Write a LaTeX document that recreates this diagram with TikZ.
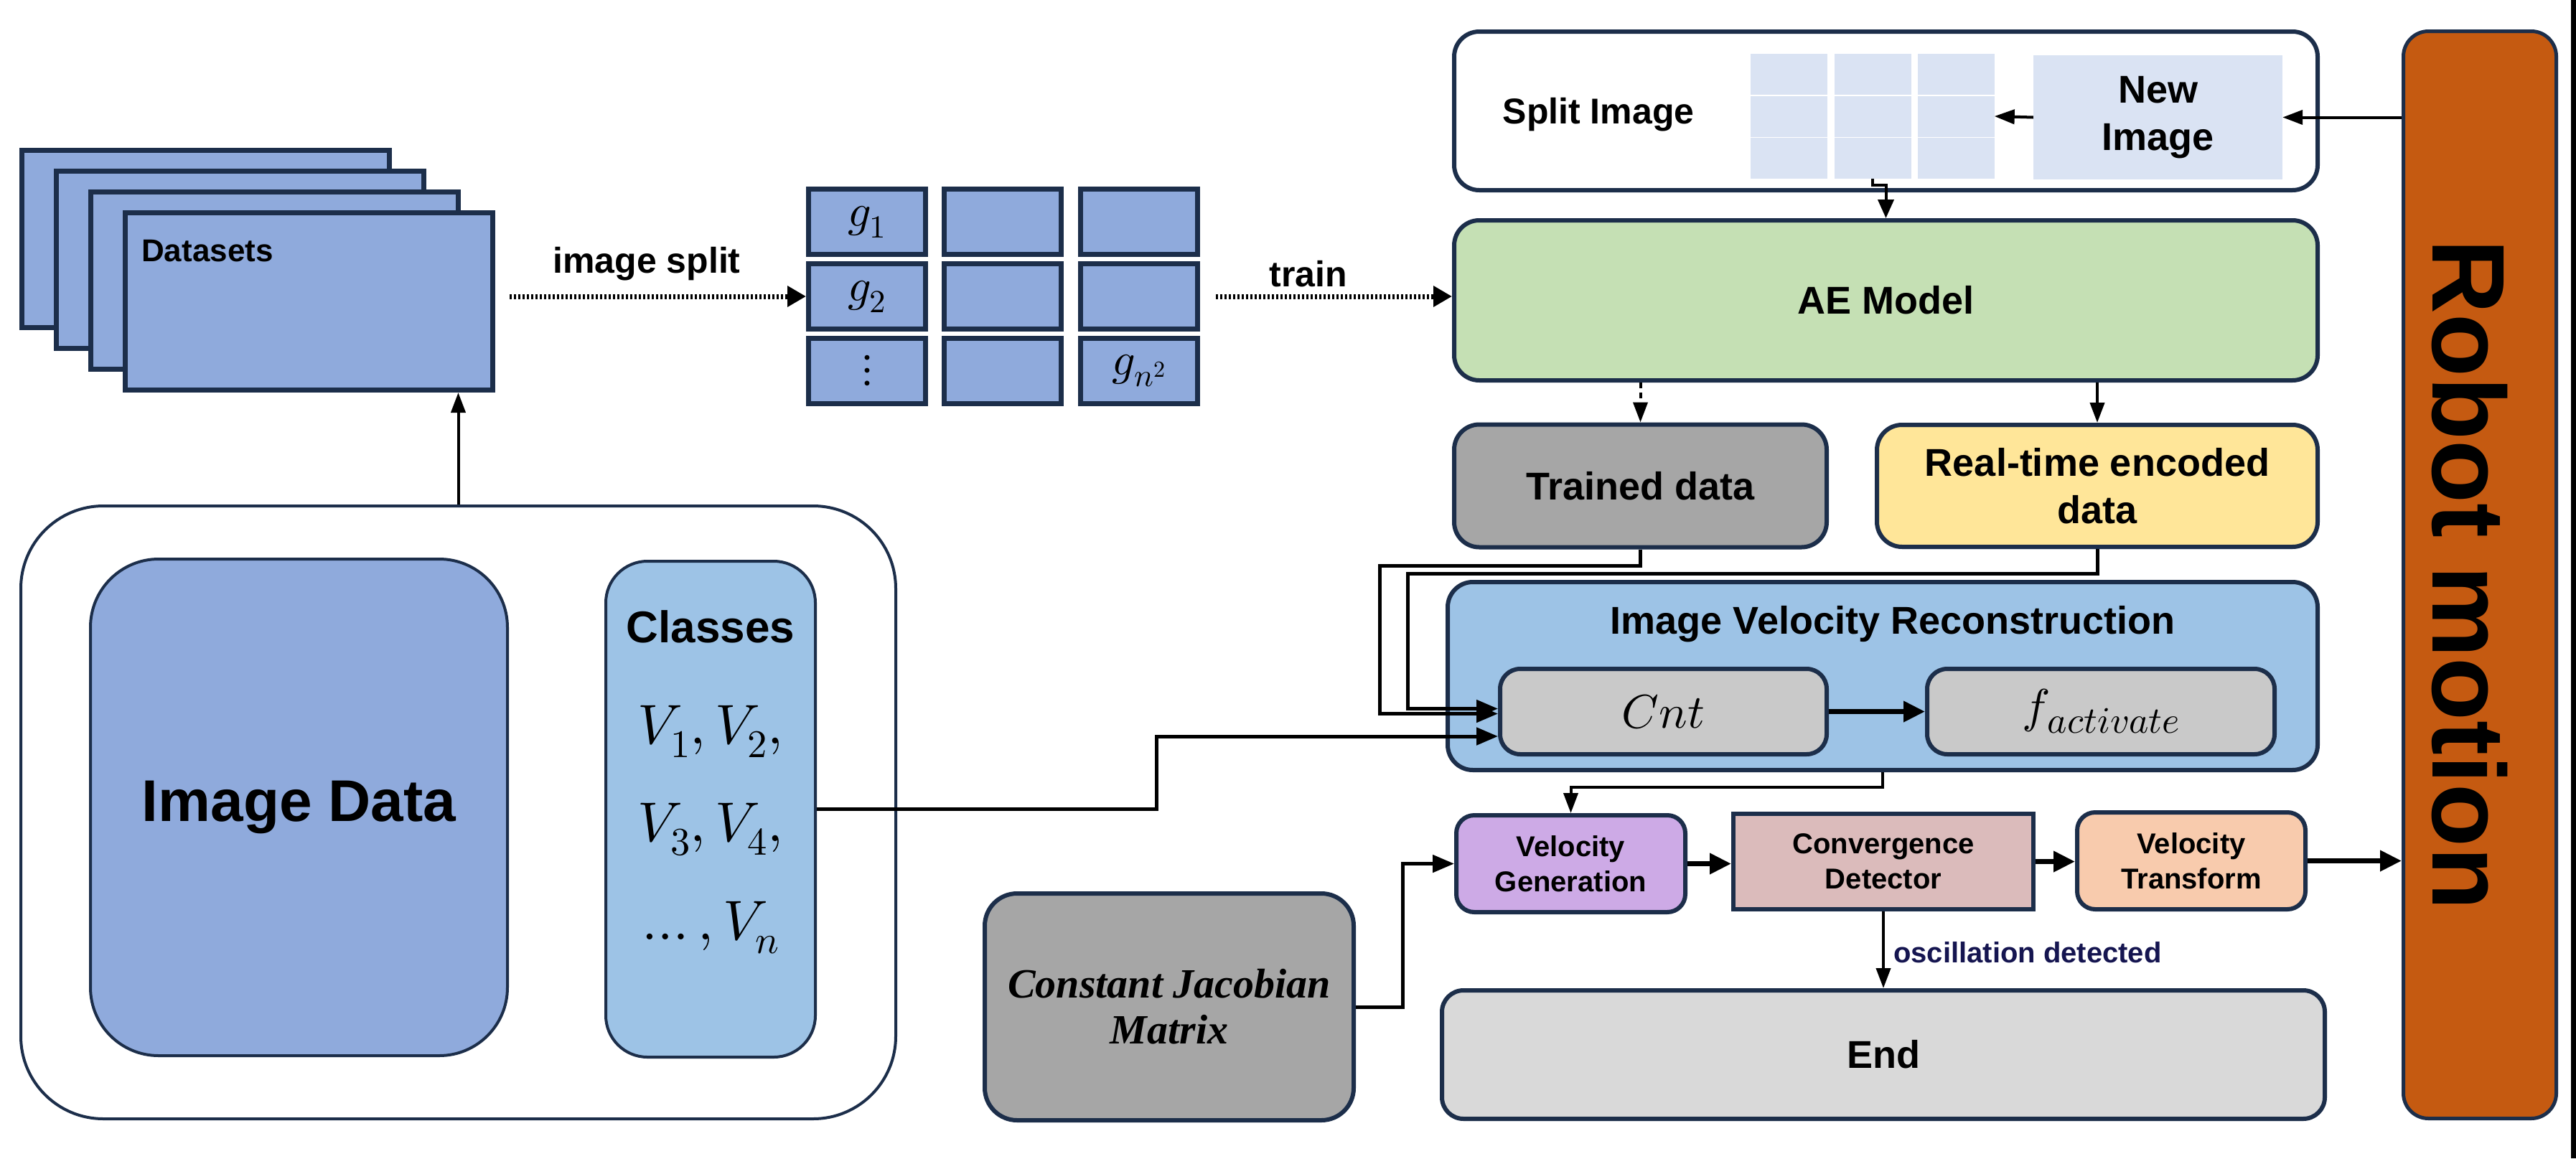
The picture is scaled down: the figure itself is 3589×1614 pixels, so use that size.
\documentclass[tikz,border=0pt]{standalone}
\usepackage{fontspec}
\usepackage{unicode-math}
\setmathfont{Latin Modern Math}
\setsansfont{Liberation Sans}
\newfontfamily\cjmfont{Liberation Serif}
\usetikzlibrary{arrows.meta}
\definecolor{navy}{HTML}{1C2E4A}
\definecolor{blueA}{HTML}{8FAADC}
\definecolor{gridlt}{HTML}{DAE3F3}
\definecolor{aegreen}{HTML}{C5E0B4}
\definecolor{midgray}{HTML}{A6A6A6}
\definecolor{rtyellow}{HTML}{FFE699}
\definecolor{ivrblue}{HTML}{9DC3E6}
\definecolor{cntgray}{HTML}{C9C9C9}
\definecolor{vgpurple}{HTML}{CDAAE6}
\definecolor{cdrose}{HTML}{DBBBBB}
\definecolor{vtpeach}{HTML}{F8CBAD}
\definecolor{endgray}{HTML}{D9D9D9}
\definecolor{robotorange}{HTML}{C55A11}
\definecolor{oscnavy}{HTML}{151550}
\begin{document}
\begin{tikzpicture}[x=1pt,y=-1pt,
  sqbox/.style={draw=navy,line width=7pt,fill=blueA,inner sep=0pt},
  cell/.style={sqbox,minimum width=163pt,minimum height=91pt,font=\fontsize{64}{64}\selectfont},
  rbox/.style={draw=navy,line width=6pt,rounded corners=35pt,inner sep=0pt,align=center,font=\sffamily\bfseries\fontsize{54}{66}\selectfont},
  lbl/.style={inner sep=0pt,align=center,font=\sffamily\bfseries\fontsize{54}{66}\selectfont},
  scell/.style={fill=gridlt,minimum width=107pt,minimum height=57pt,inner sep=0pt},
  thinarrow/.style={line width=4pt,-{Triangle[length=28pt,width=20pt]}},
  medarrow/.style={line width=5pt,-{Triangle[length=30pt,width=24pt]}},
  thickarrow/.style={line width=7pt,-{Triangle[length=30pt,width=28pt]}},
  dotarrow/.style={line width=7pt,dash pattern=on 3pt off 3pt,-{Triangle[length=26pt,width=28pt]}},
]
\fill[white] (0,0) rectangle (3589,1614);
\useasboundingbox (0,0) rectangle (3589,1614);

% Datasets stack
\node[sqbox,minimum width=512pt,minimum height=247pt] (ds4) at (286.5,333) {};
\node[sqbox,minimum width=512pt,minimum height=247pt] (ds3) at (334.5,362) {};
\node[sqbox,minimum width=512pt,minimum height=247pt] (ds2) at (382.5,391) {};
\node[sqbox,minimum width=512pt,minimum height=247pt] (ds1) at (430.5,420) {};
\node[lbl,anchor=west,font=\sffamily\bfseries\fontsize{44}{50}\selectfont] (dstxt) at (197,350) {Datasets};

% grid
\node[cell] (g11) at (1208,309) {$g_1$};
\node[cell] (g12) at (1397,309) {};
\node[cell] (g13) at (1587,309) {};
\node[cell] (g21) at (1208,413) {$g_2$};
\node[cell] (g22) at (1397,413) {};
\node[cell] (g23) at (1587,413) {};
\node[cell] (g31) at (1208,516.5) {$\vdots$};
\node[cell] (g32) at (1397,516.5) {};
\node[cell] (g33) at (1587,516.5) {$g_{n^2}$};

\node[lbl,font=\sffamily\bfseries\fontsize{50}{60}\selectfont] (splitlbl) at (901,368) {image split};
\node[lbl,font=\sffamily\bfseries\fontsize{50}{60}\selectfont] (trainlbl) at (1823,382) {train};

% split image box
\node[rbox,fill=white,minimum width=1203pt,minimum height=221pt] (splitbox) at (2627.5,154.5) {};
\node[lbl,font=\sffamily\bfseries\fontsize{50}{60}\selectfont] (splittxt) at (2227,160) {Split Image};
\node[scell] (s11) at (2492.5,103.5) {};
\node[scell] (s12) at (2609,103.5) {};
\node[scell] (s13) at (2725,103.5) {};
\node[scell] (s21) at (2492.5,162) {};
\node[scell] (s22) at (2609,162) {};
\node[scell] (s23) at (2725,162) {};
\node[scell] (s31) at (2492.5,220.5) {};
\node[scell] (s32) at (2609,220.5) {};
\node[scell] (s33) at (2725,220.5) {};
\node[lbl,fill=gridlt,minimum width=347pt,minimum height=173pt] (newimg) at (3006.5,163.5) {New\\Image};

% right column
\node[rbox,fill=aegreen,minimum width=1203pt,minimum height=223pt] (ae) at (2627.5,418.5) {AE Model};
\node[rbox,fill=midgray,minimum width=519pt,minimum height=171pt] (trained) at (2285.5,677) {Trained data};
\node[rbox,fill=rtyellow,minimum width=614pt,minimum height=170pt] (rt) at (2922,677) {Real-time encoded\\data};
\node[rbox,fill=ivrblue,minimum width=1212pt,minimum height=262pt] (ivr) at (2623,942) {};
\node[lbl] (ivrtxt) at (2637,870) {Image Velocity Reconstruction};
\node[rbox,fill=cntgray,rounded corners=28pt,minimum width=455pt,minimum height=119pt,font=\fontsize{66}{66}\selectfont] (cnt) at (2317.5,991.5) {$Cnt$};
\node[rbox,fill=cntgray,rounded corners=28pt,minimum width=484pt,minimum height=119pt,font=\fontsize{66}{66}\selectfont] (fact) at (2927,991.5) {$f$\kern-3pt\raisebox{-15pt}{\fontsize{52}{52}\selectfont$activate$}};

\node[rbox,rounded corners=25pt,fill=vgpurple,minimum width=319pt,minimum height=135pt,font=\sffamily\bfseries\fontsize{40}{49}\selectfont] (vg) at (2188.5,1203.5) {Velocity\\Generation};
\node[rbox,sharp corners,fill=cdrose,minimum width=418pt,minimum height=133pt,font=\sffamily\bfseries\fontsize{40}{49}\selectfont] (cd) at (2624,1200.5) {Convergence\\Detector};
\node[rbox,rounded corners=25pt,fill=vtpeach,minimum width=318pt,minimum height=135pt,font=\sffamily\bfseries\fontsize{40}{49}\selectfont] (vt) at (3053,1199.5) {Velocity\\Transform};
\node[rbox,rounded corners=45pt,fill=midgray,minimum width=514pt,minimum height=316pt,font=\cjmfont\bfseries\itshape\fontsize{58}{64}\selectfont] (cjm) at (1629,1403) {Constant Jacobian\\Matrix};
\node[rbox,rounded corners=30pt,fill=endgray,minimum width=1230pt,minimum height=179pt] (endbox) at (2624,1469.5) {End};

\node[rbox,fill=robotorange,line width=5pt,minimum width=213pt,minimum height=1515pt] (robot) at (3455,801) {};
\node[lbl,rotate=-90,font=\sffamily\bfseries\fontsize{144}{144}\selectfont] (robottxt) at (3441,801) {Robot motion};
\node[fill=black,inner sep=0pt,minimum width=7pt,minimum height=1614pt] (edgebar) at (3585.5,807) {};

% left container
\node[draw=navy,line width=4pt,rounded corners=115pt,fill=white,minimum width=1219pt,minimum height=854pt] (outer) at (638.5,1132) {};
\node[lbl,draw=navy,line width=4pt,rounded corners=95pt,fill=blueA,minimum width=581pt,minimum height=692pt,font=\sffamily\bfseries\fontsize{82}{90}\selectfont] (imgdata) at (416.5,1125) {Image Data};
\node[draw=navy,line width=4pt,rounded corners=58pt,fill=ivrblue,minimum width=292pt,minimum height=691pt] (classes) at (990,1127.5) {};
\node[lbl,font=\sffamily\bfseries\fontsize{62}{70}\selectfont] (cl0) at (990,873) {Classes};
\node[inner sep=0pt,font=\fontsize{78}{78}\selectfont] (cl1) at (990,1019) {$V_1,V_2,$};
\node[inner sep=0pt,font=\fontsize{78}{78}\selectfont] (cl2) at (990,1156) {$V_3,V_4,$};
\node[inner sep=0pt,font=\fontsize{78}{78}\selectfont] (cl3) at (990,1293) {$\ldots,V_n$};

% connectors
\draw[thinarrow] (outer.north) -- (outer.north |- ds1.south);
\draw[dotarrow] ([xshift=20pt]g21.west -| ds1.east) -- (g21.west);
\draw[dotarrow] ([xshift=22pt]g23.east) -- (ae.west |- g23.east);
\draw[line width=4pt,-{Triangle[length=26pt,width=22pt]}] (s32.south) -- ++(0,9) -| (ae.north);
\draw[thinarrow] (newimg.west) -- (s23.east);
\draw[thinarrow] (robot.west |- newimg.east) -- (newimg.east);
\draw[thinarrow,dash pattern=on 8pt off 6pt] (ae.south -| trained.north) -- (trained.north);
\draw[thinarrow] (ae.south -| rt.north) -- (rt.north);
\coordinate (tbend) at (1922,788);
\coordinate (rbend) at (1961,799);
\draw[medarrow] (trained.south) |- (tbend) |- ([yshift=-3pt]cnt.west);
\draw[medarrow] (rt.south) |- (rbend) |- ([yshift=4pt]cnt.west);
\coordinate (cbend) at (1611,1026);
\draw[medarrow] (classes.east) -| (cbend) -- (cbend -| cnt.west);
\draw[thickarrow] (cnt.east) -- (fact.west);
\draw[thinarrow] (ivr.south) -- ++(0,21) -| (vg.north);
\draw[medarrow] (cjm.east) -- ++(65,0) |- (vg.west);
\draw[thickarrow] (vg.east) -- (vg.east -| cd.west);
\draw[thickarrow] (cd.east) -- (cd.east -| vt.west);
\draw[thickarrow] (vt.east) -- (vt.east -| robot.west);
\draw[thinarrow] (cd.south) -- (cd.south |- endbox.north);
\node[anchor=west,inner sep=0pt,text=oscnavy,font=\sffamily\bfseries\fontsize{40}{40}\selectfont] (osc) at (2638,1327) {oscillation detected};
\end{tikzpicture}
\end{document}
